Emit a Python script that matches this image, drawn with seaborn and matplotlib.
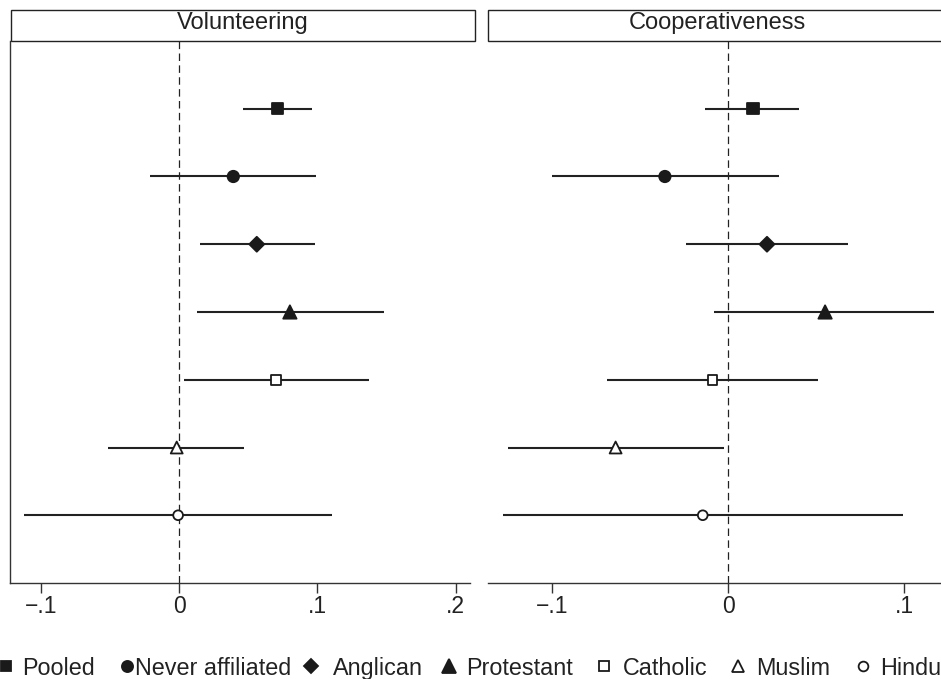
import numpy as np
import pandas as pd
import matplotlib
matplotlib.use("Agg")
import matplotlib.pyplot as plt
from matplotlib.lines import Line2D
from matplotlib.patches import Rectangle
import seaborn as sns

groups = ["Pooled", "Never affiliated", "Anglican", "Protestant", "Catholic", "Muslim", "Hindu"]

# Volunteering: point estimate and 95% CI
vol_est = [0.071, 0.039, 0.056, 0.080, 0.070, -0.002, -0.001]
vol_lo = [0.046, -0.021, 0.015, 0.013, 0.0035, -0.052, -0.113]
vol_hi = [0.096, 0.099, 0.098, 0.148, 0.137, 0.0465, 0.1105]

# Cooperativeness
coop_est = [0.014, -0.036, 0.022, 0.055, -0.009, -0.064, -0.0145]
coop_lo = [-0.013, -0.100, -0.024, -0.008, -0.069, -0.125, -0.128]
coop_hi = [0.040, 0.029, 0.068, 0.117, 0.051, -0.0025, 0.099]

markers = {"Pooled": "s", "Never affiliated": "o", "Anglican": "D", "Protestant": "^",
           "Catholic": "s", "Muslim": "^", "Hindu": "o"}
faces = {"Pooled": "#1a1a1a", "Never affiliated": "#1a1a1a", "Anglican": "#1a1a1a",
         "Protestant": "#1a1a1a", "Catholic": "white", "Muslim": "white", "Hindu": "white"}
msize = {"Pooled": 8.2, "Never affiliated": 8.2, "Anglican": 7.6, "Protestant": 9.6,
         "Catholic": 7.0, "Muslim": 8.6, "Hindu": 7.0}

sns.set_style("white")
plt.rcParams['font.family'] = ['Liberation Sans', 'DejaVu Sans']

W, H = 941, 679
fig = plt.figure(figsize=(W / 100, H / 100), dpi=100)


def px_box(x0, x1, y0, y1):
    return [x0 / W, 1 - y1 / H, (x1 - x0) / W, (y1 - y0) / H]


panels = [
    ("Volunteering", vol_est, vol_lo, vol_hi, px_box(10, 470, 41, 583), (-0.1228, 0.2105),
     [-0.1, 0, 0.1, 0.2], ["\u2212.1", "0", ".1", ".2"], (11, 475), True),
    ("Cooperativeness", coop_est, coop_lo, coop_hi, px_box(488, 946, 41, 583), (-0.1365, 0.1237),
     [-0.1, 0, 0.1], ["\u2212.1", "0", ".1"], (488, 946), False),
]

for title, est, lo, hi, box, xlim, ticks, tlabels, tb, left_spine in panels:
    ax = fig.add_axes(box)
    df = pd.DataFrame({"group": groups, "row": np.arange(1, 8), "est": est, "lo": lo, "hi": hi})
    ax.axvline(0, color="#222222", lw=0.9, ls=(0, (6, 3.5)), zorder=1)
    ax.hlines(df["row"], df["lo"], df["hi"], color="#222222", lw=1.5, zorder=2)
    sns.scatterplot(data=df, x="est", y="row", hue="group", style="group", size="group",
                    palette=faces, markers=markers,
                    sizes={g: msize[g] ** 2 for g in groups},
                    edgecolor="#1a1a1a", linewidth=1.3, legend=False, zorder=3, ax=ax)
    ax.set_xlim(*xlim)
    ax.set_ylim(8, 0)
    ax.set_yticks([])
    ax.set_xticks(ticks)
    ax.set_xticklabels(tlabels, fontsize=16.5, color="#222222")
    ax.set_xlabel("")
    ax.set_ylabel("")
    ax.tick_params(axis="x", bottom=True, length=7, width=1, color="#333333", pad=1.5)
    for s in ["top", "right"]:
        ax.spines[s].set_visible(False)
    ax.spines["left"].set_visible(left_spine)
    for s in ["left", "bottom"]:
        ax.spines[s].set_color("#333333")
        ax.spines[s].set_linewidth(1.0)
    # title strip
    x0, x1 = tb
    fig.patches.append(Rectangle((x0 / W, 1 - 41 / H), (x1 - x0) / W, 31 / H,
                                 transform=fig.transFigure, facecolor="white",
                                 edgecolor="#222222", lw=1.0))
    fig.text((x0 + x1) / 2 / W, 1 - 29.5 / H, title, ha="center", va="baseline",
             fontsize=17, color="#222222")

# legend, laid out item by item like the original
leg_marker_x = [6, 127.5, 310.5, 449, 603.5, 738, 862.5]
leg_text_x = [22, 135, 332.5, 466.5, 622.5, 756.5, 880]
leg_ms = {"Pooled": 7.6, "Never affiliated": 8.0, "Anglican": 7.4, "Protestant": 9.6,
          "Catholic": 7.2, "Muslim": 8.8, "Hindu": 7.0}
for g, mx, tx in zip(groups, leg_marker_x, leg_text_x):
    fig.add_artist(Line2D([mx / W], [1 - 666 / H], ls="none", marker=markers[g],
                          markersize=leg_ms[g], markerfacecolor=faces[g],
                          markeredgecolor="#1a1a1a", markeredgewidth=1.3,
                          transform=fig.transFigure))
    fig.text(tx / W, 1 - 675 / H, g, ha="left", va="baseline", fontsize=16.8, color="#222222")

fig.savefig("out.png", dpi=100)
